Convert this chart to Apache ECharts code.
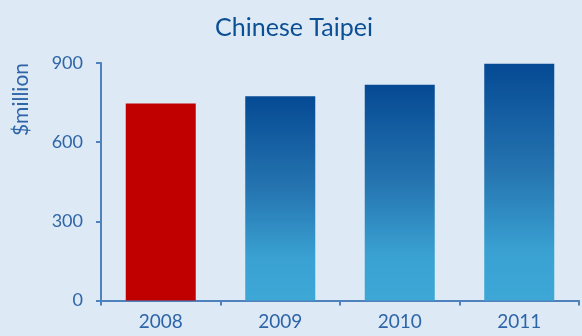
<!DOCTYPE html>
<html>
<head>
<meta charset="utf-8">
<script src="https://cdn.jsdelivr.net/npm/echarts@6/dist/echarts.min.js"></script>
<style>
html,body{margin:0;padding:0;background:#dde9f5;}
#c{width:582px;height:336px;}
</style>
</head>
<body>
<div id="c"></div>
<script>
const categories = ['2008', '2009', '2010', '2011'];
const values = [747, 774, 818, 897];
const highlight = [true, false, false, false];
const yTicks = [0, 300, 600, 900];
const titleText = 'Chinese Taipei';
const yName = '$million';

const blueGrad = {
  type: 'linear', x: 0, y: 0, x2: 0, y2: 1,
  colorStops: [
    {offset: 0, color: '#054a94'},
    {offset: 0.45, color: '#2574b0'},
    {offset: 0.8, color: '#3aa2d3'},
    {offset: 1, color: '#3da7d6'}
  ]
};
const font = 'Lato, "Open Sans", sans-serif';
const chart = echarts.init(document.getElementById('c'), null, {renderer: 'canvas'});
chart.setOption({
  backgroundColor: '#dde9f5',
  animation: false,
  title: {
    text: titleText, left: 289, top: 10, textAlign: 'center',
    textStyle: {color: '#0b4f95', fontSize: 25, fontWeight: 'normal', fontFamily: font}
  },
  graphic: [{
    type: 'text', left: 11, top: 63,
    rotation: Math.PI / 2,
    style: {text: yName, fill: '#2e65a8', fontSize: 21, fontFamily: font}
  }],
  grid: {left: 101, right: 3, top: 63, bottom: 35.5},
  xAxis: {
    type: 'category', data: categories,
    axisLine: {lineStyle: {color: '#4f81bd', width: 2}},
    axisTick: {show: true, length: 5, lineStyle: {color: '#4f81bd', width: 2}},
    axisLabel: {color: '#2e65a8', fontSize: 19, fontFamily: font, margin: 12}
  },
  yAxis: {
    type: 'value', min: yTicks[0], max: yTicks[yTicks.length - 1], interval: 300,
    axisLine: {show: true, lineStyle: {color: '#4f81bd', width: 2}},
    axisTick: {show: true, length: 5, lineStyle: {color: '#4f81bd', width: 2}},
    splitLine: {show: false},
    axisLabel: {color: '#2e65a8', fontSize: 18, fontFamily: font, margin: 18}
  },
  series: [{
    type: 'bar', barWidth: 70,
    data: values.map((v, i) => ({value: v, itemStyle: {color: highlight[i] ? '#c00000' : blueGrad}}))
  }]
});
</script>
</body>
</html>
